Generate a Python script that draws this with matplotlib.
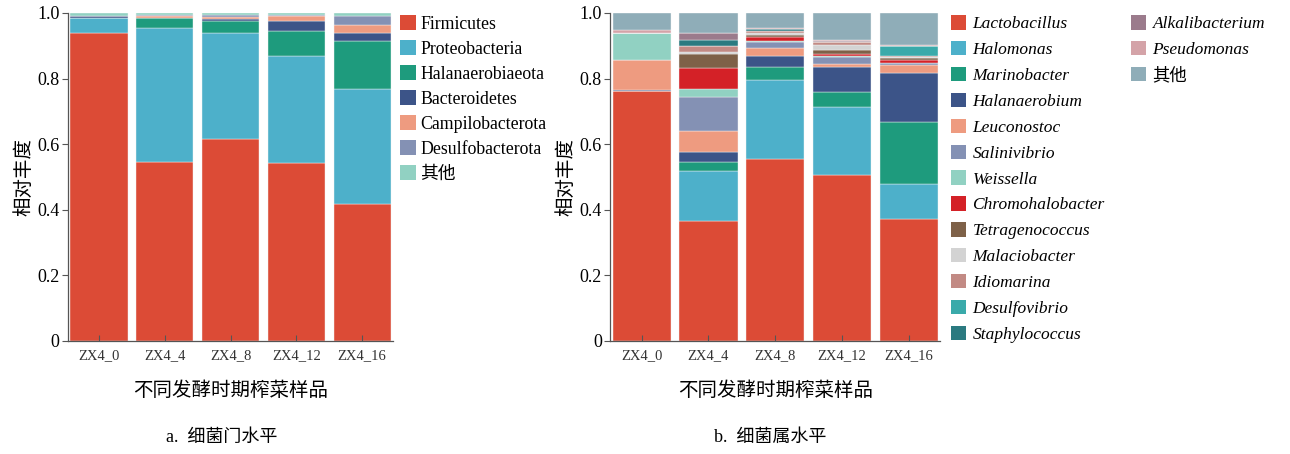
import numpy as np
import matplotlib
matplotlib.use("Agg")
import matplotlib.pyplot as plt
from matplotlib.patches import Patch

plt.rcParams['font.family'] = ['Liberation Serif', 'Noto Sans CJK SC']

samples = ['ZX4_0', 'ZX4_4', 'ZX4_8', 'ZX4_12', 'ZX4_16']

# phylum level
phyla = ['Firmicutes', 'Proteobacteria', 'Halanaerobiaeota', 'Bacteroidetes',
         'Campilobacterota', 'Desulfobacterota', '其他']
phylum_vals = [
    [0.938, 0.546, 0.615, 0.543, 0.418],
    [0.048, 0.409, 0.323, 0.327, 0.349],
    [0.000, 0.029, 0.038, 0.076, 0.148],
    [0.006, 0.002, 0.005, 0.028, 0.025],
    [0.000, 0.006, 0.008, 0.018, 0.022],
    [0.000, 0.002, 0.004, 0.002, 0.029],
    [0.008, 0.006, 0.007, 0.006, 0.009],
]
phylum_colors = ['#DC4B36', '#4DB0CA', '#1E9B7D', '#3C5488', '#EE9B80',
                 '#8491B4', '#91D1C2']

# genus level
genera = ['Lactobacillus', 'Halomonas', 'Marinobacter', 'Halanaerobium',
          'Leuconostoc', 'Salinivibrio', 'Weissella', 'Chromohalobacter',
          'Tetragenococcus', 'Malaciobacter', 'Idiomarina', 'Desulfovibrio',
          'Staphylococcus', 'Alkalibacterium', 'Pseudomonas', '其他']
genus_vals = [
    [0.762, 0.367, 0.554, 0.506, 0.371],
    [0.001, 0.152, 0.242, 0.206, 0.107],
    [0.000, 0.028, 0.038, 0.046, 0.191],
    [0.001, 0.028, 0.036, 0.076, 0.149],
    [0.094, 0.066, 0.022, 0.010, 0.023],
    [0.000, 0.104, 0.020, 0.023, 0.006],
    [0.080, 0.024, 0.002, 0.001, 0.001],
    [0.000, 0.062, 0.013, 0.007, 0.009],
    [0.000, 0.043, 0.005, 0.012, 0.005],
    [0.000, 0.006, 0.007, 0.015, 0.005],
    [0.001, 0.020, 0.006, 0.008, 0.003],
    [0.000, 0.000, 0.001, 0.001, 0.028],
    [0.000, 0.019, 0.004, 0.001, 0.001],
    [0.000, 0.019, 0.002, 0.002, 0.001],
    [0.010, 0.002, 0.002, 0.003, 0.001],
    [0.051, 0.060, 0.046, 0.083, 0.099],
]
genus_colors = ['#DC4B36', '#4DB0CA', '#1E9B7D', '#3C5488', '#EE9B80',
                '#8491B4', '#91D1C2', '#D42127', '#7E6148', '#D3D3D3',
                '#C28A84', '#3AAAAA', '#2B7A80', '#9B7B8C', '#D4A3A8',
                '#8FADB8']

fig = plt.figure(figsize=(12.9, 4.54), dpi=100)
ax1 = fig.add_axes([0.0527, 0.249, 0.252, 0.7225])
ax2 = fig.add_axes([0.473, 0.249, 0.256, 0.7225])


def stack(ax, vals, colors):
    x = np.arange(len(samples))
    bottom = np.zeros(len(samples))
    for v, c in zip(vals, colors):
        ax.bar(x, v, bottom=bottom, width=0.87, color=c,
               edgecolor='#f4f4f4', linewidth=0.3)
        bottom += np.array(v)
    ax.set_xlim(-0.47, 4.47)
    ax.set_ylim(0, 1.0)
    ax.set_xticks(x)
    ax.set_xticklabels(samples, fontsize=10.5, color='#333333')
    ax.set_yticks([0, 0.2, 0.4, 0.6, 0.8, 1.0])
    ax.set_yticklabels(['0', '0.2', '0.4', '0.6', '0.8', '1.0'], fontsize=13)
    for s in ['top', 'right']:
        ax.spines[s].set_visible(False)
    for s in ['left', 'bottom']:
        ax.spines[s].set_color('#555555')
        ax.spines[s].set_linewidth(0.9)
    ax.tick_params(axis='x', direction='in', length=4, color='#555555', pad=6)
    ax.tick_params(axis='y', direction='out', length=4, color='#555555', pad=2)
    ax.set_ylabel('相对丰度', fontsize=14, family=['Noto Sans CJK SC'], labelpad=2)
    ax.set_xlabel('不同发酵时期榨菜样品', fontsize=14,
                  family=['Noto Sans CJK SC'], labelpad=13)


stack(ax1, phylum_vals, phylum_colors)
stack(ax2, genus_vals, genus_colors)

h1 = [Patch(facecolor=c, edgecolor='none') for c in phylum_colors]
ax1.legend(h1, phyla, loc='upper left', bbox_to_anchor=(0.99, 1.025),
           frameon=False, handlelength=0.9, handleheight=0.9,
           handletextpad=0.2, labelspacing=0.42, borderaxespad=0.2,
           prop={'family': ['Liberation Serif', 'Noto Sans CJK SC'], 'size': 12.8})

h2 = [Patch(facecolor=c, edgecolor='none') for c in genus_colors]
italic = {'family': ['Liberation Serif', 'Noto Sans CJK SC'], 'size': 12.5,
          'style': 'italic'}
leg_a = ax2.legend(h2[:13], genera[:13], loc='upper left',
                   bbox_to_anchor=(1.0, 1.025), frameon=False,
                   handlelength=0.9, handleheight=0.9, handletextpad=0.35,
                   labelspacing=0.5, borderaxespad=0.2, prop=italic)
ax2.add_artist(leg_a)
leg_b = ax2.legend(h2[13:], genera[13:], loc='upper left',
                   bbox_to_anchor=(1.545, 1.025), frameon=False,
                   handlelength=0.9, handleheight=0.9, handletextpad=0.35,
                   labelspacing=0.5, borderaxespad=0.2, prop=italic)
for t in leg_b.get_texts():
    if t.get_text() == '其他':
        t.set_fontstyle('normal')

fig.text(0.172, 0.037, 'a.  细菌门水平', ha='center', va='center', fontsize=13,
         family=['Liberation Serif', 'Noto Sans CJK SC'])
fig.text(0.597, 0.037, 'b.  细菌属水平', ha='center', va='center', fontsize=13,
         family=['Liberation Serif', 'Noto Sans CJK SC'])

fig.savefig('out.png', dpi=100)
